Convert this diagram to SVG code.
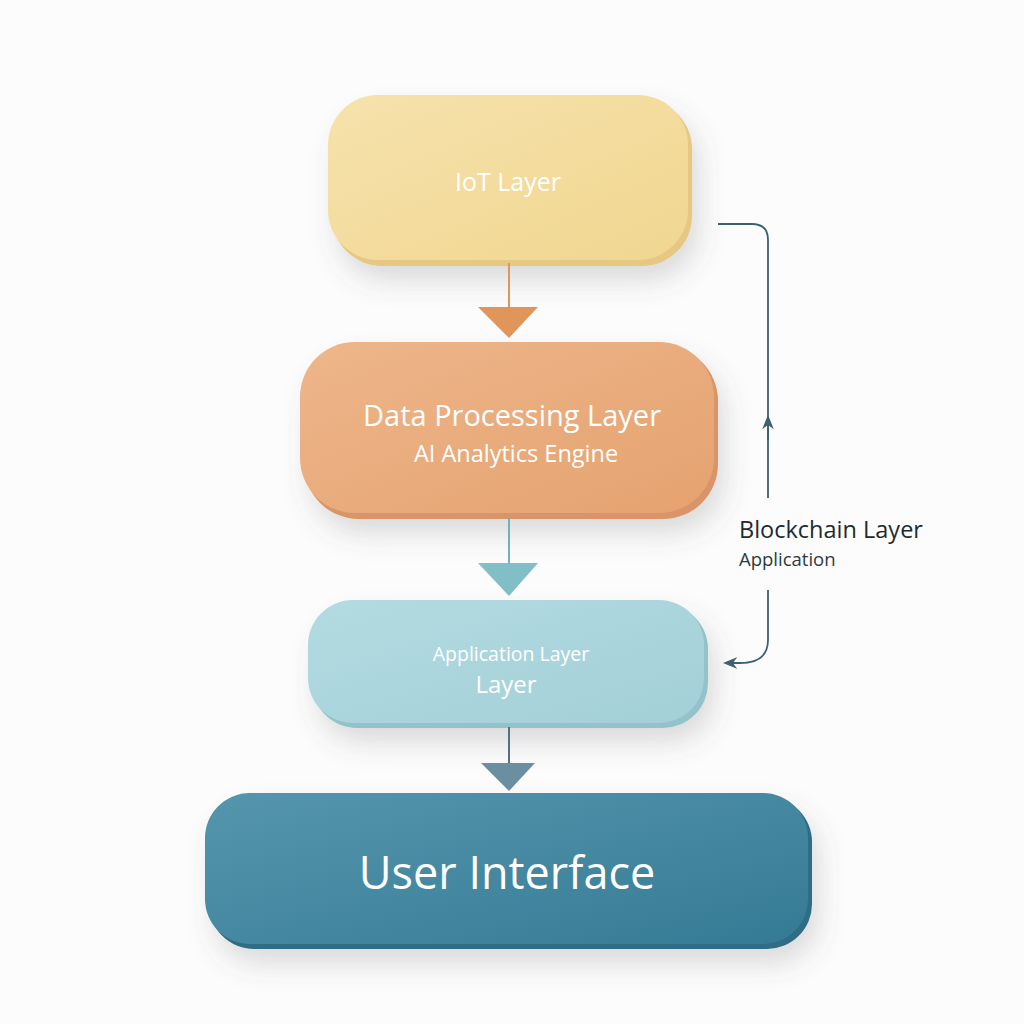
<svg xmlns="http://www.w3.org/2000/svg" width="1024" height="1024" viewBox="0 0 1024 1024">
<defs>
<filter id="sh" x="-20%" y="-30%" width="140%" height="170%">
<feDropShadow dx="6" dy="14" stdDeviation="14" flood-color="#5a5a5a" flood-opacity="0.22"/>
</filter>
<linearGradient id="gIot" x1="0" y1="0" x2="1" y2="1"><stop offset="0" stop-color="#f6e2ac"/><stop offset="1" stop-color="#f0d690"/></linearGradient>
<linearGradient id="gDp" x1="0" y1="0" x2="1" y2="1"><stop offset="0" stop-color="#eeb68a"/><stop offset="1" stop-color="#e5a270"/></linearGradient>
<linearGradient id="gApp" x1="0" y1="0" x2="1" y2="1"><stop offset="0" stop-color="#b3dbe1"/><stop offset="1" stop-color="#a3cfd8"/></linearGradient>
<linearGradient id="gUi" x1="0" y1="0" x2="1" y2="1"><stop offset="0" stop-color="#5596ad"/><stop offset="1" stop-color="#357a94"/></linearGradient>
<marker id="mUp" viewBox="0 0 10 10" refX="5" refY="5" markerWidth="8" markerHeight="8" orient="auto">
<path d="M0,1 L10,5 L0,9 L3,5 Z" fill="#3d6070"/>
</marker>
<style>
.t{font-family:"Open Sans","Noto Sans","Liberation Sans",sans-serif;fill:#ffffff;text-anchor:middle}
.d{font-family:"Open Sans","Noto Sans","Liberation Sans",sans-serif}
</style>
</defs>
<rect width="1024" height="1024" fill="#fcfcfc"/>

<g id="iot-layer">
<rect x="332" y="99" width="360" height="167" rx="50" fill="#e6c882" filter="url(#sh)"/>
<rect x="328" y="95" width="360" height="165" rx="50" fill="url(#gIot)"/>
<text class="t" x="508" y="191" font-size="25">IoT Layer</text>
</g>

<g id="data-processing-layer">
<rect x="304" y="346" width="414" height="173" rx="55" fill="#d9946a" filter="url(#sh)"/>
<rect x="300" y="342" width="414" height="171" rx="55" fill="url(#gDp)"/>
<text class="t" x="512" y="426" font-size="29">Data Processing Layer</text>
<text class="t" x="516" y="462" font-size="23.5">AI Analytics Engine</text>
</g>

<g id="application-layer">
<rect x="312" y="604" width="396" height="124" rx="45" fill="#94c2cb" filter="url(#sh)"/>
<rect x="308" y="600" width="396" height="123" rx="45" fill="url(#gApp)"/>
<text class="t" x="511" y="661" font-size="19.5">Application Layer</text>
<text class="t" x="506" y="693" font-size="24">Layer</text>
</g>

<g id="user-interface">
<rect x="209" y="797" width="603" height="152" rx="45" fill="#2e6d85" filter="url(#sh)"/>
<rect x="205" y="793" width="603" height="151" rx="45" fill="url(#gUi)"/>
<text class="t" x="507" y="889" font-size="45">User Interface</text>
</g>

<g id="blockchain-layer">
<text class="d" x="739" y="538" font-size="23.5" font-weight="500" fill="#1f2a30">Blockchain Layer</text>
<text class="d" x="739" y="566" font-size="18.5" fill="#2e3a40">Application</text>
</g>

<g id="connectors">
<line x1="509" y1="263" x2="509" y2="310" stroke="#e0965a" stroke-width="2"/>
<polygon points="478,307 538,307 509,338" fill="#e0965a"/>
<line x1="509" y1="518" x2="509" y2="566" stroke="#6fb0ba" stroke-width="2"/>
<polygon points="478,563 538,563 509,596" fill="#82bec6"/>
<line x1="509" y1="727" x2="509" y2="766" stroke="#4f7385" stroke-width="2"/>
<polygon points="481,763 535,763 509,791" fill="#6a8fa0"/>
<path d="M718,224 L752,224 Q768,224 768,240 L768,498" fill="none" stroke="#3d6070" stroke-width="1.8"/>
<path d="M768,440 L768,422" fill="none" stroke="#3d6070" stroke-width="1.8" marker-end="url(#mUp)"/>
<path d="M768,590 L768,640 Q768,663 740,663 L730,663" fill="none" stroke="#3d6070" stroke-width="1.8" marker-end="url(#mUp)"/>
</g>
</svg>
